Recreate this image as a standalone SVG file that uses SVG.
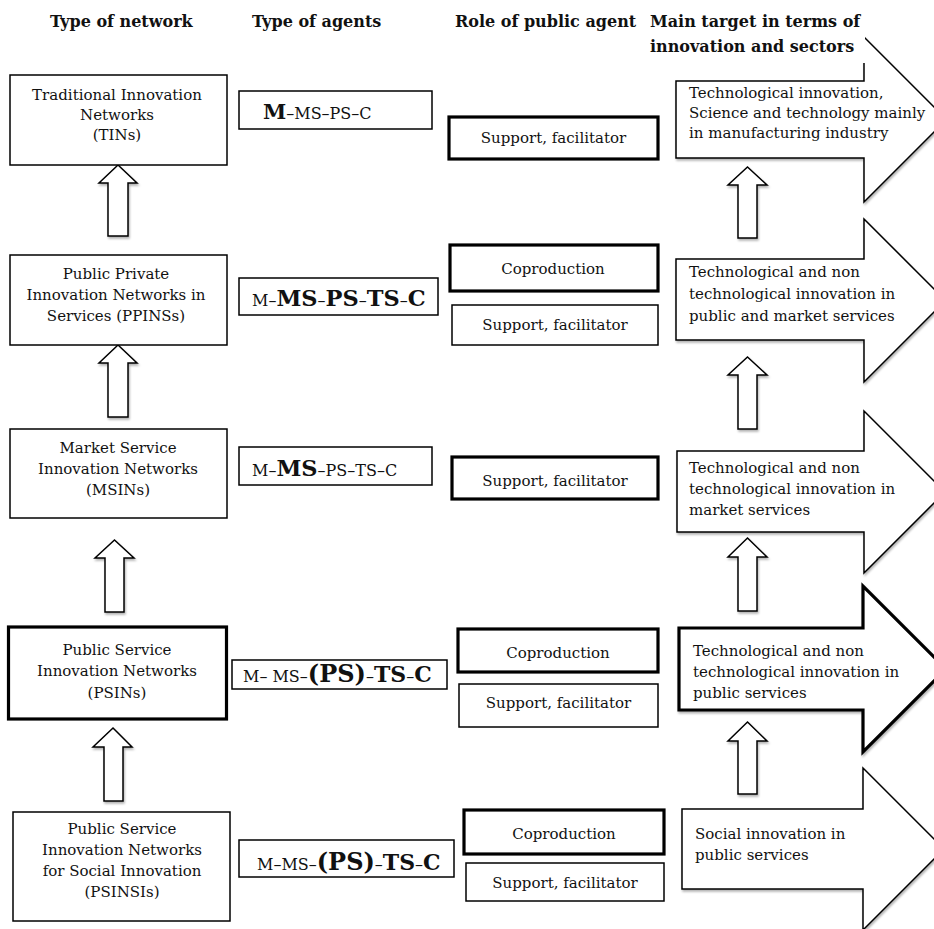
<svg xmlns="http://www.w3.org/2000/svg" width="934" height="929" viewBox="0 0 934 929">
<style>
text{font-family:"DejaVu Serif","Liberation Serif",serif;fill:#111;}
.hd{font-size:16px;font-weight:bold;}
.t{font-size:15px;}
.c{text-anchor:middle;}
.thin{fill:#fff;stroke:#000;stroke-width:1.5;}
.thick{fill:#fff;stroke:#000;stroke-width:3.2;}
.up{fill:#fff;stroke:#000;stroke-width:1.5;filter:url(#sh);}
.sm{font-size:16px;font-weight:normal;}
.bg{font-size:22.5px;font-weight:bold;}
</style>
<defs>
<filter id="sh" x="-20%" y="-20%" width="140%" height="140%">
<feDropShadow dx="1" dy="2" stdDeviation="1.2" flood-color="#000" flood-opacity="0.3"/>
</filter>
</defs>
<rect width="934" height="929" fill="#fff"/>

<g id="bigarrows">
<g id="target1">
<path class="up" d="M676,81 H864 V37 L946.5,119.5 L864,202 V158 H676 Z"/>
<text class="t" x="689" y="98">Technological innovation,</text>
<text class="t" x="689" y="118">Science and technology mainly</text>
<text class="t" x="689" y="138">in manufacturing industry</text>
</g>
<g id="target2">
<path class="up" d="M676,259 H864 V219 L945.5,300.5 L864,382 V340 H676 Z"/>
<text class="t" x="689" y="277">Technological and non</text>
<text class="t" x="689" y="299">technological innovation in</text>
<text class="t" x="689" y="321">public and market services</text>
</g>
<g id="target3">
<path class="up" d="M677,451 H864 V411 L945,492 L864,573 V532 H677 Z"/>
<text class="t" x="689" y="473">Technological and non</text>
<text class="t" x="689" y="494">technological innovation in</text>
<text class="t" x="689" y="515">market services</text>
</g>
<g id="target4">
<path class="up" style="stroke-width:3.2" d="M679,628 H863 V586 L946,669 L863,752 V710 H679 Z"/>
<text class="t" x="693" y="656">Technological and non</text>
<text class="t" x="693" y="677">technological innovation in</text>
<text class="t" x="693" y="698">public services</text>
</g>
<g id="target5">
<path class="up" d="M682,809 H863 V768 L944,849 L863,930 V889 H682 Z"/>
<text class="t" x="695" y="839">Social innovation in</text>
<text class="t" x="695" y="860">public services</text>
</g>
</g>

<g id="headers">
<rect x="646" y="6" width="219" height="57" fill="#fff"/>
<text class="hd" x="50" y="27">Type of network</text>
<text class="hd" x="252" y="27">Type of agents</text>
<text class="hd" x="455" y="27">Role of public agent</text>
<text class="hd" x="650" y="27">Main target in terms of</text>
<text class="hd" x="650" y="52">innovation and sectors</text>
</g>

<g id="connectors">
<path class="up" d="M118,165 L137,183 H128 V236 H108 V183 H99 Z"/>
<path class="up" d="M118,345 L137,363 H128 V417 H108 V363 H99 Z"/>
<path class="up" d="M114.5,540 L134,558 H124 V612 H105 V558 H95 Z"/>
<path class="up" d="M113,728 L132,747 H123 V801 H104 V747 H93 Z"/>
<path class="up" d="M747.5,167 L767,185 H757 V238 H738 V185 H728 Z"/>
<path class="up" d="M747.5,357 L767,375 H757 V429 H738 V375 H728 Z"/>
<path class="up" d="M747.5,538 L767,557 H757 V611 H738 V557 H728 Z"/>
<path class="up" d="M747.5,722 L767,741 H757 V794 H738 V741 H728 Z"/>
</g>

<g id="net1">
<rect class="thin" x="10" y="75" width="217" height="90"/>
<text class="t c" x="117" y="100">Traditional Innovation</text>
<text class="t c" x="117" y="120">Networks</text>
<text class="t c" x="117" y="140">(TINs)</text>
</g>
<g id="net2">
<rect class="thin" x="10" y="255" width="217" height="90"/>
<text class="t c" x="116" y="279">Public Private</text>
<text class="t c" x="116" y="300">Innovation Networks in</text>
<text class="t c" x="116" y="321">Services (PPINSs)</text>
</g>
<g id="net3">
<rect class="thin" x="10" y="429" width="217" height="89"/>
<text class="t c" x="118" y="453">Market Service</text>
<text class="t c" x="118" y="474">Innovation Networks</text>
<text class="t c" x="118" y="495">(MSINs)</text>
</g>
<g id="net4">
<rect class="thick" x="8.5" y="627" width="218" height="92"/>
<text class="t c" x="117" y="655">Public Service</text>
<text class="t c" x="117" y="676">Innovation Networks</text>
<text class="t c" x="117" y="698">(PSINs)</text>
</g>
<g id="net5">
<rect class="thin" x="13" y="812" width="217" height="109"/>
<text class="t c" x="122" y="834">Public Service</text>
<text class="t c" x="122" y="855">Innovation Networks</text>
<text class="t c" x="122" y="876">for Social Innovation</text>
<text class="t c" x="122" y="897">(PSINSIs)</text>
</g>

<g id="agents1">
<rect class="thin" x="239" y="91" width="193" height="38"/>
<text x="263" y="119"><tspan style="font-size:21px;font-weight:bold">M</tspan><tspan class="sm">–MS–PS–C</tspan></text>
</g>
<g id="agents2">
<rect class="thin" x="239" y="278" width="199" height="37"/>
<text x="252" y="306"><tspan class="sm">M–</tspan><tspan class="bg">MS</tspan><tspan class="sm">–</tspan><tspan class="bg">PS</tspan><tspan class="sm">–</tspan><tspan class="bg">TS</tspan><tspan class="sm">–</tspan><tspan class="bg">C</tspan></text>
</g>
<g id="agents3">
<rect class="thin" x="239" y="447" width="193" height="38"/>
<text x="252" y="476"><tspan class="sm">M–</tspan><tspan class="bg">MS</tspan><tspan class="sm">–PS–TS–C</tspan></text>
</g>
<g id="agents4">
<rect class="thin" x="232" y="660" width="215" height="29"/>
<text x="243" y="682"><tspan class="sm">M– MS–</tspan><tspan style="font-size:24px;font-weight:bold">(PS)</tspan><tspan class="sm">–</tspan><tspan class="bg" style="font-size:22px">TS</tspan><tspan class="sm">–</tspan><tspan class="bg" style="font-size:22px">C</tspan></text>
</g>
<g id="agents5">
<rect class="thin" x="239" y="840" width="215" height="37"/>
<text x="257" y="870"><tspan class="sm">M–MS–</tspan><tspan style="font-size:24px;font-weight:bold">(PS)</tspan><tspan class="sm">–</tspan><tspan class="bg" style="font-size:22px">TS</tspan><tspan class="sm">–</tspan><tspan class="bg" style="font-size:22px">C</tspan></text>
</g>

<g id="role1">
<rect class="thick" x="449" y="117" width="209" height="42"/>
<text class="t c" x="553.5" y="143">Support, facilitator</text>
</g>
<g id="role2a">
<rect class="thick" x="450" y="245" width="208" height="46"/>
<text class="t c" x="553" y="274">Coproduction</text>
</g>
<g id="role2b">
<rect class="thin" x="452" y="305" width="206" height="40"/>
<text class="t c" x="555" y="330">Support, facilitator</text>
</g>
<g id="role3">
<rect class="thick" x="452" y="457" width="206" height="42"/>
<text class="t c" x="555" y="486">Support, facilitator</text>
</g>
<g id="role4a">
<rect class="thick" x="458" y="629" width="200" height="43"/>
<text class="t c" x="558" y="658">Coproduction</text>
</g>
<g id="role4b">
<rect class="thin" x="459" y="684" width="199" height="43"/>
<text class="t c" x="558.5" y="708">Support, facilitator</text>
</g>
<g id="role5a">
<rect class="thick" x="464" y="810" width="200" height="44"/>
<text class="t c" x="564" y="839">Coproduction</text>
</g>
<g id="role5b">
<rect class="thin" x="466" y="863" width="198" height="38"/>
<text class="t c" x="565" y="888">Support, facilitator</text>
</g>
</svg>
